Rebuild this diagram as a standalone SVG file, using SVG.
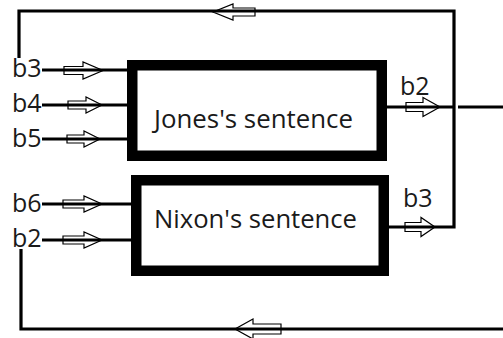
<svg xmlns="http://www.w3.org/2000/svg" width="503" height="338" viewBox="0 0 503 338">
<style>
.box{fill:none;stroke:#000;stroke-width:10.5}
.wire{fill:none;stroke:#000;stroke-width:3.2}
.arr{fill:none;stroke:#000;stroke-width:1.2;stroke-linejoin:miter}
.lbl{font-family:"Open Sans","Liberation Sans",sans-serif;font-size:25px;fill:#1a1a1a}
.name{font-family:"Open Sans","Liberation Sans",sans-serif;font-size:25px;fill:#1a1a1a}
</style>
<rect width="503" height="338" fill="#fff"/>
<g id="connectors">
  <path class="wire" d="M389,227 H454 V11 H19 V58"/>
  <path class="wire" d="M387,107 H453"/>
  <path class="wire" d="M458,107 H503"/>
  <path class="wire" d="M503,329 H21 V249"/>
  <path class="wire" d="M42,70 H127"/>
  <path class="wire" d="M42,105 H127"/>
  <path class="wire" d="M42,139 H127"/>
  <path class="wire" d="M42,204 H131"/>
  <path class="wire" d="M42,240 H131"/>
  <path class="arr" d="M64,66.5 H83 V62 L103,70.5 L83,79 V74.5 H64 Z"/>
  <path class="arr" d="M68,101 H86 V97 L102,105 L86,113 V109 H68 Z"/>
  <path class="arr" d="M67,135 H84 V131 L100,139 L84,147 V143 H67 Z"/>
  <path class="arr" d="M63,200 H84 V196 L102,204 L84,212 V208 H63 Z"/>
  <path class="arr" d="M63,236 H84 V232 L102,240 L84,248 V244 H63 Z"/>
  <path class="arr" d="M406,102.5 H423 V97.5 L440,107 L423,116.5 V111.5 H406 Z"/>
  <path class="arr" d="M405,222.5 H421 V217.5 L435,227 L421,236.5 V231.5 H405 Z"/>
  <path class="arr" d="M255,8 H233 V4 L213,12 L233,20 V16 H255 Z"/>
  <path class="arr" d="M281,324 H253 V319 L235,329 L253,339 V334 H281 Z"/>
</g>
<g id="jones">
  <rect class="box" x="132.25" y="65.25" width="249.5" height="90.5"/>
  <text class="name" x="154" y="128" textLength="199" lengthAdjust="spacingAndGlyphs">Jones's sentence</text>
</g>
<g id="nixon">
  <rect class="box" x="136.25" y="180.25" width="247.5" height="90.5"/>
  <text class="name" x="154" y="228" textLength="203" lengthAdjust="spacingAndGlyphs">Nixon's sentence</text>
</g>
<g id="labels">
  <text class="lbl" x="12" y="77">b3</text>
  <text class="lbl" x="12" y="112">b4</text>
  <text class="lbl" x="12" y="147">b5</text>
  <text class="lbl" x="12" y="212">b6</text>
  <text class="lbl" x="12" y="247">b2</text>
  <text class="lbl" x="400" y="95">b2</text>
  <text class="lbl" x="403" y="207">b3</text>
</g>
</svg>
